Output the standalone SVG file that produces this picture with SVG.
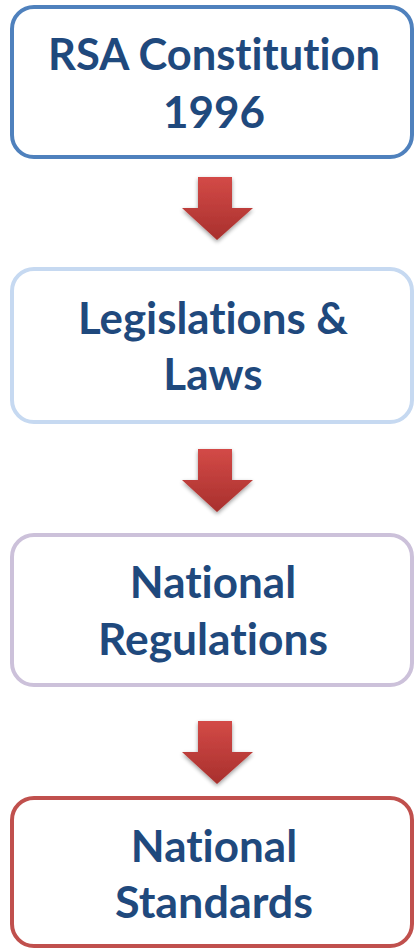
<svg xmlns="http://www.w3.org/2000/svg" width="414" height="949" viewBox="0 0 414 949">
<defs>
<linearGradient id="ag" x1="0" y1="0" x2="0" y2="1">
<stop offset="0" stop-color="#d34a47"/>
<stop offset="1" stop-color="#a8302d"/>
</linearGradient>
<filter id="sh" x="-30%" y="-30%" width="160%" height="160%">
<feGaussianBlur in="SourceAlpha" stdDeviation="2"/>
<feOffset dx="0" dy="2" result="b"/>
<feComponentTransfer><feFuncA type="linear" slope="0.4"/></feComponentTransfer>
<feMerge><feMergeNode/><feMergeNode in="SourceGraphic"/></feMerge>
</filter>
</defs>
<style>
.box{fill:#ffffff;stroke-width:4}
.t{font-family:Lato,"Open Sans","Liberation Sans",sans-serif;font-weight:bold;font-size:44px;fill:#1f497d;text-anchor:middle;font-variant-ligatures:none;font-feature-settings:"liga" 0}
.arr{fill:url(#ag);filter:url(#sh)}
</style>
<rect width="414" height="949" fill="#ffffff"/>
<g id="connectors">
<polygon class="arr" points="198,177 232,177 232,208 253,208 217,240 182,208 198,208"/>
<polygon class="arr" points="198,449 232,449 232,480 253,480 217,512 182,480 198,480"/>
<polygon class="arr" points="198,721 232,721 232,752 253,752 217,784 182,752 198,752"/>
</g>
<g id="node1">
<rect class="box" x="12" y="7" width="400" height="150" rx="22" stroke="#4f81bd"/>
<text class="t" x="214" y="70" textLength="332" lengthAdjust="spacingAndGlyphs">RSA Constitution</text>
<text class="t" x="214" y="128">1996</text>
</g>
<g id="node2">
<rect class="box" x="12" y="269" width="400" height="153" rx="22" stroke="#c6d9f1"/>
<text class="t" x="213" y="334" textLength="270" lengthAdjust="spacingAndGlyphs">Legislations &amp;</text>
<text class="t" x="213" y="390">Laws</text>
</g>
<g id="node3">
<rect class="box" x="12" y="535" width="400" height="150" rx="22" stroke="#ccc1da"/>
<text class="t" x="213" y="598">National</text>
<text class="t" x="213" y="655" textLength="230" lengthAdjust="spacingAndGlyphs">Regulations</text>
</g>
<g id="node4">
<rect class="box" x="12" y="798" width="400" height="148" rx="22" stroke="#c0504d"/>
<text class="t" x="214" y="862">National</text>
<text class="t" x="214" y="918" textLength="198" lengthAdjust="spacingAndGlyphs">Standards</text>
</g>
</svg>
